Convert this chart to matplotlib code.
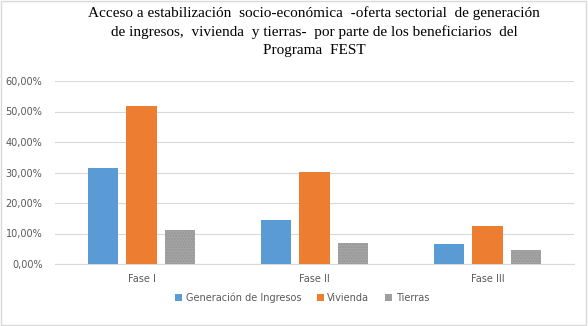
import numpy as np
import matplotlib.pyplot as plt
from matplotlib.patches import Rectangle

# Daten
fases = ['Fase I', 'Fase II', 'Fase III']
ingresos = [0.315, 0.144, 0.066]
vivienda = [0.519, 0.302, 0.125]
tierras = [0.112, 0.069, 0.046]
series = ['Generación de Ingresos', 'Vivienda', 'Tierras']
colores = ['#5B9BD5', '#ED7D31', '#A5A5A5']
yticks = [0, 0.1, 0.2, 0.3, 0.4, 0.5, 0.6]

titulo = ('Acceso a estabilización  socio-económica  -oferta sectorial  de generación\n'
          'de ingresos,  vivienda  y tierras-  por parte de los beneficiarios  del\n'
          'Programa  FEST')

fig = plt.figure(figsize=(5.88, 3.26), dpi=100)
ax = fig.add_axes([55 / 588, 1 - 264 / 326, 519 / 588, 183 / 326])

x = np.arange(len(fases))
w = 0.174
paso = 0.22
ax.bar(x - paso, ingresos, w, color=colores[0], label=series[0], zorder=3)
ax.bar(x, vivienda, w, color=colores[1], label=series[1], zorder=3)
ax.bar(x + paso, tierras, w, color=colores[2], label=series[2], zorder=3,
       hatch='......', edgecolor='#959595', linewidth=0)

ax.set_xlim(-0.5, 2.5)
ax.set_ylim(0, 0.6)
ax.set_yticks(yticks)
ax.set_yticklabels([f'{v * 100:.2f}%'.replace('.', ',') for v in yticks])
ax.set_xticks(x)
ax.set_xticklabels(fases)
ax.tick_params(axis='both', length=0, labelsize=7, colors='#595959', pad=7)
ax.tick_params(axis='y', pad=9)
ax.grid(axis='y', color='#D9D9D9', linewidth=0.8, zorder=0)
for s in ['top', 'right', 'left']:
    ax.spines[s].set_visible(False)
ax.spines['bottom'].set_color('#D9D9D9')
ax.spines['bottom'].set_linewidth(0.8)
for lbl in ax.get_xticklabels() + ax.get_yticklabels():
    lbl.set_family('DejaVu Sans')

fig.text(314 / 588, 1 - 6 / 326, titulo, ha='center', va='top',
         family='Liberation Serif', fontsize=11, linespacing=1.5)

fig.legend(loc='center', bbox_to_anchor=(302 / 588, 1 - 298 / 326), ncol=3,
           frameon=False, fontsize=7, handlelength=0.7, handleheight=0.7,
           handletextpad=0.4, columnspacing=1.6, labelcolor='#595959')

fig.patches.append(Rectangle((0.002, 0.003), 0.994, 0.994, transform=fig.transFigure,
                             fill=False, edgecolor='#D9D9D9', linewidth=1))

fig.savefig('out.png', dpi=100)
